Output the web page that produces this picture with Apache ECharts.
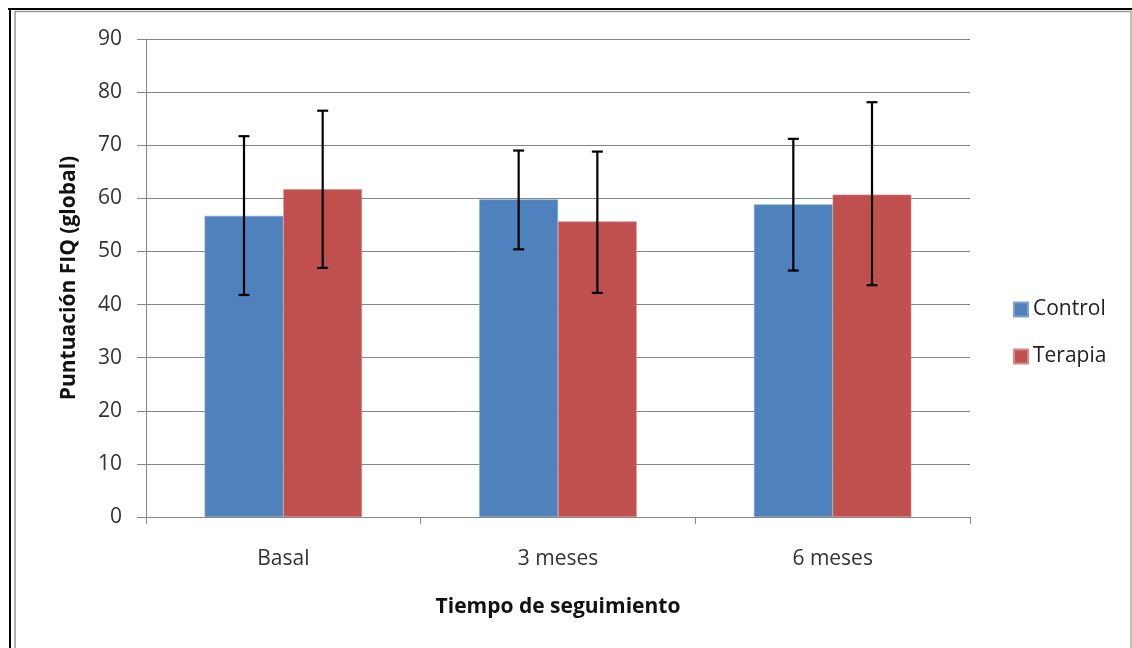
<!DOCTYPE html>
<html>
<head>
<meta charset="utf-8">
<script src="https://cdn.jsdelivr.net/npm/echarts@6/dist/echarts.min.js"></script>
<style>
html,body{margin:0;padding:0;background:#fff;}
#c{width:1132px;height:648px;}
</style>
</head>
<body>
<div id="c"></div>
<script>
var categories = ['Basal', '3 meses', '6 meses'];
var seriesNames = ['Control', 'Terapia'];
var controlValues = [56.7, 59.8, 58.85];
var terapiaValues = [61.7, 55.65, 60.7];
var controlLow = [41.8, 50.4, 46.4];
var controlHigh = [71.7, 69.0, 71.2];
var terapiaLow = [46.9, 42.2, 43.65];
var terapiaHigh = [76.5, 68.8, 78.1];
var yTicks = [0, 90, 10];

var FONT = '"Open Sans", "Noto Sans", sans-serif';
var BAR_GAP_CAT = 0.427;

function errItem(seriesIndex) {
  return function (params, api) {
    var ci = api.value(0);
    var lo = api.coord([ci, api.value(1)]);
    var hi = api.coord([ci, api.value(2)]);
    var band = api.size([1, 0])[0];
    var barW = band * (1 - BAR_GAP_CAT) / 2;
    var x = lo[0] + (seriesIndex === 0 ? -barW / 2 : barW / 2);
    var cap = 5.5;
    var st = {stroke: '#000', lineWidth: 2.2};
    return {
      type: 'group',
      children: [
        {type: 'line', shape: {x1: x, y1: lo[1], x2: x, y2: hi[1]}, style: st},
        {type: 'line', shape: {x1: x - cap, y1: lo[1], x2: x + cap, y2: lo[1]}, style: st},
        {type: 'line', shape: {x1: x - cap, y1: hi[1], x2: x + cap, y2: hi[1]}, style: st}
      ]
    };
  };
}

function errData(lo, hi) {
  return categories.map(function (c, i) { return [i, lo[i], hi[i]]; });
}

var chart = echarts.init(document.getElementById('c'), null, {renderer: 'canvas'});
chart.setOption({
  animation: false,
  backgroundColor: '#fff',
  textStyle: {fontFamily: FONT},
  color: ['#4F81BD', '#C0504D'],
  grid: {left: 146, right: 162, top: 39, bottom: 131, containLabel: false},
  legend: {
    data: seriesNames,
    orient: 'vertical',
    left: 1008,
    top: 294,
    itemWidth: 14,
    itemHeight: 14,
    itemGap: 26,
    icon: 'rect',
    textStyle: {fontFamily: FONT, fontSize: 21, color: '#222'}
  },
  xAxis: {
    type: 'category',
    data: categories,
    name: 'Tiempo de seguimiento',
    nameLocation: 'middle',
    nameGap: 80,
    nameTextStyle: {fontFamily: FONT, fontSize: 21, fontWeight: 'bold', color: '#111'},
    axisLine: {lineStyle: {color: '#868686', width: 1}},
    axisTick: {show: true, alignWithLabel: false, length: 7, lineStyle: {color: '#868686'}},
    axisLabel: {fontFamily: FONT, fontSize: 21, color: '#333', margin: 32},
    splitLine: {show: false}
  },
  yAxis: {
    type: 'value',
    min: yTicks[0],
    max: yTicks[1],
    interval: yTicks[2],
    name: 'Puntuación FIQ (global)',
    nameLocation: 'middle',
    nameGap: 66,
    nameRotate: 90,
    nameTextStyle: {fontFamily: FONT, fontSize: 21, fontWeight: 'bold', color: '#111'},
    axisLine: {show: true, lineStyle: {color: '#868686', width: 1}},
    axisTick: {show: true, length: 9, lineStyle: {color: '#868686'}},
    axisLabel: {fontFamily: FONT, fontSize: 21, color: '#333', margin: 24},
    splitLine: {show: true, lineStyle: {color: '#868686', width: 1}}
  },
  series: [
    {
      name: seriesNames[0],
      type: 'bar',
      data: controlValues,
      barGap: '0%',
      barCategoryGap: (BAR_GAP_CAT * 100) + '%',
      itemStyle: {color: '#4F81BD', borderColor: '#7da2d0', borderWidth: 0.6}
    },
    {
      name: seriesNames[1],
      type: 'bar',
      data: terapiaValues,
      barGap: '0%',
      barCategoryGap: (BAR_GAP_CAT * 100) + '%',
      itemStyle: {color: '#C0504D', borderColor: '#d68a88', borderWidth: 0.6}
    },
    {
      type: 'custom',
      renderItem: errItem(0),
      data: errData(controlLow, controlHigh),
      encode: {x: 0, y: [1, 2]},
      z: 10,
      silent: true
    },
    {
      type: 'custom',
      renderItem: errItem(1),
      data: errData(terapiaLow, terapiaHigh),
      encode: {x: 0, y: [1, 2]},
      z: 10,
      silent: true
    }
  ],
  graphic: [
    {type: 'line', shape: {x1: 8, y1: 9, x2: 1132, y2: 9}, style: {stroke: '#000', lineWidth: 2}},
    {type: 'line', shape: {x1: 10, y1: 8, x2: 10, y2: 648}, style: {stroke: '#000', lineWidth: 2}},
    {type: 'line', shape: {x1: 15, y1: 11.5, x2: 1132, y2: 11.5}, style: {stroke: '#999', lineWidth: 1.5}},
    {type: 'line', shape: {x1: 15, y1: 11, x2: 15, y2: 648}, style: {stroke: '#999', lineWidth: 1.5}},
    {type: 'line', shape: {x1: 1131, y1: 11, x2: 1131, y2: 648}, style: {stroke: '#aaa', lineWidth: 1.5}}
  ]
});
</script>
</body>
</html>
